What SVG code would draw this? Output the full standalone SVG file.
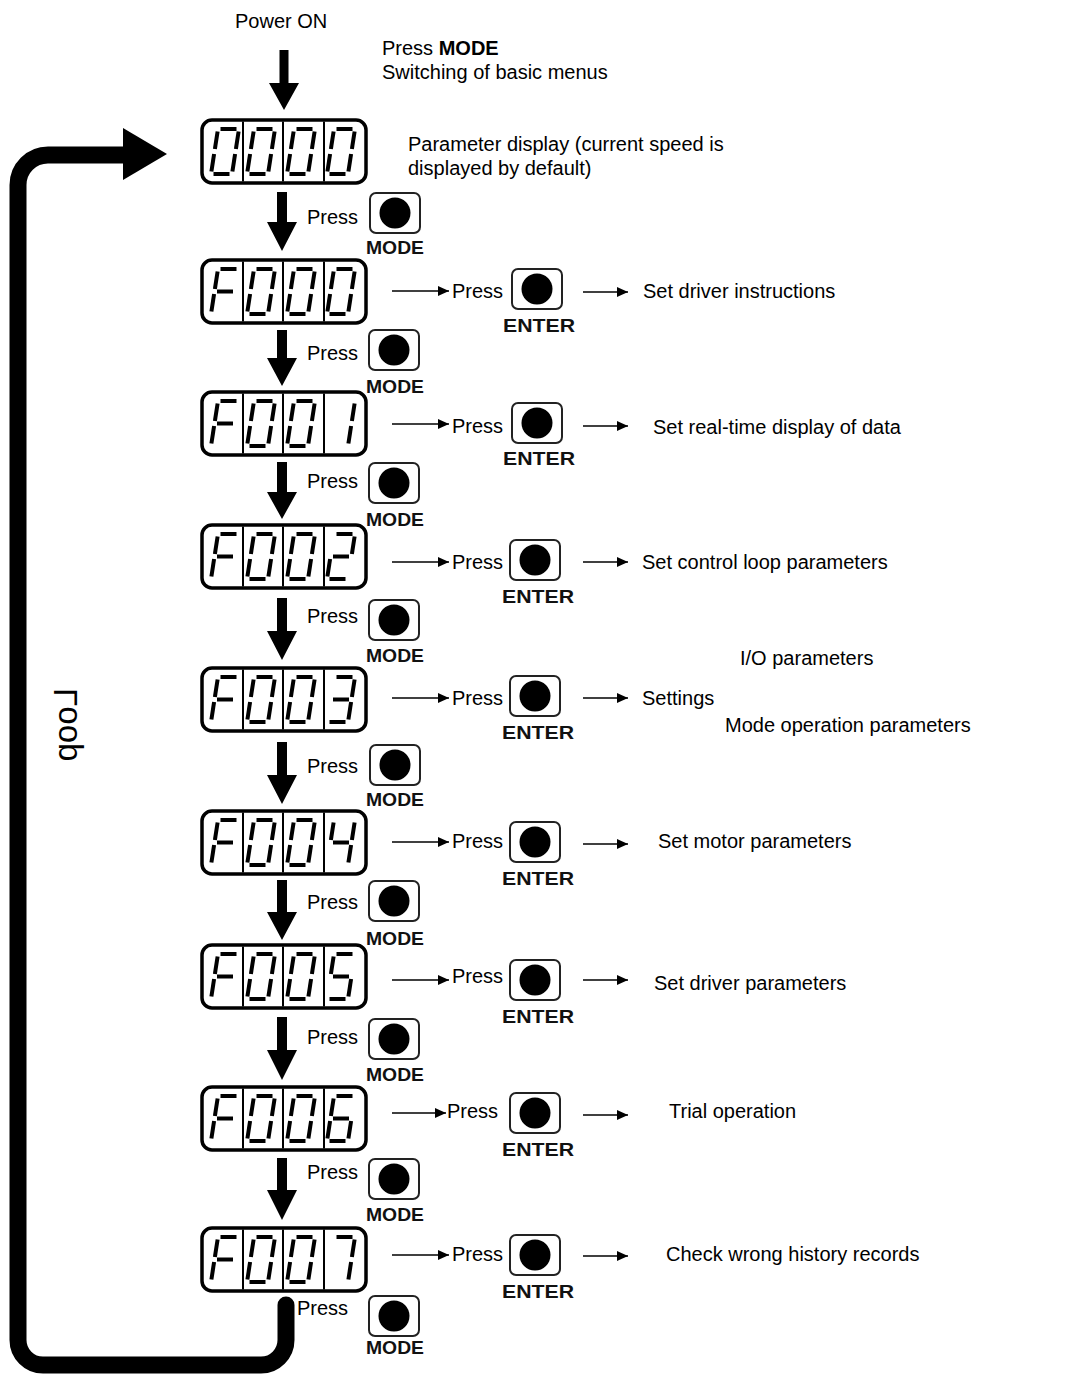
<svg xmlns="http://www.w3.org/2000/svg" xmlns:xlink="http://www.w3.org/1999/xlink" width="1083" height="1374" viewBox="0 0 1083 1374">
<style>
.t{font-family:"Liberation Sans",Arial,sans-serif;font-size:20px;fill:#000}
.k{font-family:"Liberation Sans",Arial,sans-serif;font-size:19px;font-weight:bold;fill:#111;text-anchor:middle}
.box{fill:#fff;stroke:#000;stroke-width:3.5}
.div{stroke:#000;stroke-width:2}
.seg{stroke:#000;stroke-width:4;stroke-linecap:butt;fill:none}
.btn{fill:#fff;stroke:#222;stroke-width:2}
.thin{stroke:#000;stroke-width:1.6;fill:none}
.big{fill:#000}
</style>
<defs>
<marker id="ah" markerUnits="userSpaceOnUse" markerWidth="12" markerHeight="10" refX="11" refY="5" orient="auto"><path d="M0,0 L11,5 L0,10 Z" fill="#000"/></marker>
<line id="sa" class="seg" x1="9.5" y1="0" x2="25.5" y2="0"/>
<line id="sb" class="seg" x1="27.6" y1="2.5" x2="24.9" y2="20"/>
<line id="sc" class="seg" x1="24.1" y1="25" x2="21.4" y2="42.5"/>
<line id="sd" class="seg" x1="2.5" y1="45" x2="18.5" y2="45"/>
<line id="se" class="seg" x1="3.1" y1="25" x2="0.4" y2="42.5"/>
<line id="sf" class="seg" x1="6.6" y1="2.5" x2="3.9" y2="20"/>
<line id="sg" class="seg" x1="6" y1="22.5" x2="22" y2="22.5"/>
<g id="d0"><use href="#sa"/><use href="#sb"/><use href="#sc"/><use href="#sd"/><use href="#se"/><use href="#sf"/></g>
<g id="dF"><use href="#sa"/><use href="#se"/><use href="#sf"/><use href="#sg"/></g>
<g id="d1"><use href="#sb"/><use href="#sc"/></g>
<g id="d2"><use href="#sa"/><use href="#sb"/><use href="#sg"/><use href="#se"/><use href="#sd"/></g>
<g id="d3"><use href="#sa"/><use href="#sb"/><use href="#sg"/><use href="#sc"/><use href="#sd"/></g>
<g id="d4"><use href="#sf"/><use href="#sg"/><use href="#sb"/><use href="#sc"/></g>
<g id="d5"><use href="#sa"/><use href="#sf"/><use href="#sg"/><use href="#sc"/><use href="#sd"/></g>
<g id="d6"><use href="#sa"/><use href="#sf"/><use href="#sg"/><use href="#se"/><use href="#sc"/><use href="#sd"/></g>
<g id="d7"><use href="#sa"/><use href="#sb"/><use href="#sc"/></g>
<g id="frame"><rect class="box" x="202" y="0" width="164" height="63" rx="10"/><line class="div" x1="243" y1="1.5" x2="243" y2="61.5"/><line class="div" x1="283" y1="1.5" x2="283" y2="61.5"/><line class="div" x1="324" y1="1.5" x2="324" y2="61.5"/></g>
<g id="btn"><rect class="btn" x="-25" y="-20" width="50" height="40" rx="6"/><circle cx="0" cy="0" r="15.5" fill="#000"/></g>
</defs>

<!-- top labels -->
<g id="top-labels">
<text class="t" x="235" y="28">Power ON</text>
<text class="t" x="382" y="55">Press <tspan font-weight="bold">MODE</tspan></text>
<text class="t" x="382" y="79">Switching of basic menus</text>
<text class="t" x="408" y="151">Parameter display (current speed is</text>
<text class="t" x="408" y="175">displayed by default)</text>
</g>

<!-- connectors -->
<g id="connectors">
<path id="loop" d="M286,1305 V1340 A25,25 0 0 1 261,1365 H43 A25,25 0 0 1 18,1340 V185 A30,30 0 0 1 48,155 H126" fill="none" stroke="#000" stroke-width="17" stroke-linecap="round"/>
<polygon points="123,128 167,154 123,180" fill="#000"/>
<path class="big" d="M279.5,50 H288.5 V83 H299 L284,110 L269,83 H279.5 Z"/>
<path class="big" d="M277,192 H287 V222 H297 L282,251 L267,222 H277 Z"/>
<path class="big" d="M277,330 H287 V358 H297 L282,386 L267,358 H277 Z"/>
<path class="big" d="M277,462 H287 V492 H297 L282,519 L267,492 H277 Z"/>
<path class="big" d="M277,598 H287 V631 H297 L282,660 L267,631 H277 Z"/>
<path class="big" d="M277,742 H287 V775 H297 L282,804 L267,775 H277 Z"/>
<path class="big" d="M277,880 H287 V912 H297 L282,940 L267,912 H277 Z"/>
<path class="big" d="M277,1017 H287 V1050 H297 L282,1080 L267,1050 H277 Z"/>
<path class="big" d="M277,1158 H287 V1190 H297 L282,1220 L267,1190 H277 Z"/>
<line class="thin" x1="392" y1="291" x2="449" y2="291" marker-end="url(#ah)"/>
<line class="thin" x1="583" y1="292" x2="628" y2="292" marker-end="url(#ah)"/>
<line class="thin" x1="392" y1="424" x2="449" y2="424" marker-end="url(#ah)"/>
<line class="thin" x1="583" y1="426" x2="628" y2="426" marker-end="url(#ah)"/>
<line class="thin" x1="392" y1="562" x2="449" y2="562" marker-end="url(#ah)"/>
<line class="thin" x1="583" y1="562" x2="628" y2="562" marker-end="url(#ah)"/>
<line class="thin" x1="392" y1="698" x2="449" y2="698" marker-end="url(#ah)"/>
<line class="thin" x1="583" y1="698" x2="628" y2="698" marker-end="url(#ah)"/>
<line class="thin" x1="392" y1="842" x2="449" y2="842" marker-end="url(#ah)"/>
<line class="thin" x1="583" y1="844" x2="628" y2="844" marker-end="url(#ah)"/>
<line class="thin" x1="392" y1="980" x2="449" y2="980" marker-end="url(#ah)"/>
<line class="thin" x1="583" y1="980" x2="628" y2="980" marker-end="url(#ah)"/>
<line class="thin" x1="392" y1="1113" x2="446" y2="1113" marker-end="url(#ah)"/>
<line class="thin" x1="583" y1="1115" x2="628" y2="1115" marker-end="url(#ah)"/>
<line class="thin" x1="392" y1="1255" x2="449" y2="1255" marker-end="url(#ah)"/>
<line class="thin" x1="583" y1="1256" x2="628" y2="1256" marker-end="url(#ah)"/>
</g>

<text class="t" transform="matrix(0 1 1 0 77 688)" x="0" y="0" style="font-size:33px">Loop</text>

<!-- displays -->
<g id="disp-0000" transform="translate(0,120)"><use href="#frame"/><use href="#d0" x="211" y="9"/><use href="#d0" x="247" y="9"/><use href="#d0" x="287" y="9"/><use href="#d0" x="327" y="9"/></g>
<g id="disp-F000" transform="translate(0,260)"><use href="#frame"/><use href="#dF" x="211" y="9"/><use href="#d0" x="247" y="9"/><use href="#d0" x="287" y="9"/><use href="#d0" x="327" y="9"/></g>
<g id="disp-F001" transform="translate(0,392)"><use href="#frame"/><use href="#dF" x="211" y="9"/><use href="#d0" x="247" y="9"/><use href="#d0" x="287" y="9"/><use href="#d1" x="327" y="9"/></g>
<g id="disp-F002" transform="translate(0,525)"><use href="#frame"/><use href="#dF" x="211" y="9"/><use href="#d0" x="247" y="9"/><use href="#d0" x="287" y="9"/><use href="#d2" x="327" y="9"/></g>
<g id="disp-F003" transform="translate(0,668)"><use href="#frame"/><use href="#dF" x="211" y="9"/><use href="#d0" x="247" y="9"/><use href="#d0" x="287" y="9"/><use href="#d3" x="327" y="9"/></g>
<g id="disp-F004" transform="translate(0,811)"><use href="#frame"/><use href="#dF" x="211" y="9"/><use href="#d0" x="247" y="9"/><use href="#d0" x="287" y="9"/><use href="#d4" x="327" y="9"/></g>
<g id="disp-F005" transform="translate(0,945)"><use href="#frame"/><use href="#dF" x="211" y="9"/><use href="#d0" x="247" y="9"/><use href="#d0" x="287" y="9"/><use href="#d5" x="327" y="9"/></g>
<g id="disp-F006" transform="translate(0,1087)"><use href="#frame"/><use href="#dF" x="211" y="9"/><use href="#d0" x="247" y="9"/><use href="#d0" x="287" y="9"/><use href="#d6" x="327" y="9"/></g>
<g id="disp-F007" transform="translate(0,1228)"><use href="#frame"/><use href="#dF" x="211" y="9"/><use href="#d0" x="247" y="9"/><use href="#d0" x="287" y="9"/><use href="#d7" x="327" y="9"/></g>

<!-- MODE buttons -->
<g id="mode-1"><text class="t" x="307" y="224">Press</text><use href="#btn" x="395" y="213"/><text class="k" x="395" y="254" textLength="58" lengthAdjust="spacingAndGlyphs">MODE</text></g>
<g id="mode-2"><text class="t" x="307" y="360">Press</text><use href="#btn" x="394" y="350"/><text class="k" x="395" y="393" textLength="58" lengthAdjust="spacingAndGlyphs">MODE</text></g>
<g id="mode-3"><text class="t" x="307" y="488">Press</text><use href="#btn" x="394" y="483"/><text class="k" x="395" y="526" textLength="58" lengthAdjust="spacingAndGlyphs">MODE</text></g>
<g id="mode-4"><text class="t" x="307" y="623">Press</text><use href="#btn" x="394" y="620"/><text class="k" x="395" y="662" textLength="58" lengthAdjust="spacingAndGlyphs">MODE</text></g>
<g id="mode-5"><text class="t" x="307" y="773">Press</text><use href="#btn" x="395" y="765"/><text class="k" x="395" y="806" textLength="58" lengthAdjust="spacingAndGlyphs">MODE</text></g>
<g id="mode-6"><text class="t" x="307" y="909">Press</text><use href="#btn" x="394" y="901"/><text class="k" x="395" y="945" textLength="58" lengthAdjust="spacingAndGlyphs">MODE</text></g>
<g id="mode-7"><text class="t" x="307" y="1044">Press</text><use href="#btn" x="394" y="1039"/><text class="k" x="395" y="1081" textLength="58" lengthAdjust="spacingAndGlyphs">MODE</text></g>
<g id="mode-8"><text class="t" x="307" y="1179">Press</text><use href="#btn" x="394" y="1179"/><text class="k" x="395" y="1221" textLength="58" lengthAdjust="spacingAndGlyphs">MODE</text></g>
<g id="mode-9"><text class="t" x="297" y="1315">Press</text><use href="#btn" x="394" y="1316"/><text class="k" x="395" y="1354" textLength="58" lengthAdjust="spacingAndGlyphs">MODE</text></g>

<!-- ENTER buttons and results -->
<g id="enter-F000"><text class="t" x="452" y="298">Press</text><use href="#btn" x="537" y="289"/><text class="k" x="539" y="332" textLength="72" lengthAdjust="spacingAndGlyphs">ENTER</text><text class="t" x="643" y="298">Set driver instructions</text></g>
<g id="enter-F001"><text class="t" x="452" y="433">Press</text><use href="#btn" x="537" y="423"/><text class="k" x="539" y="465" textLength="72" lengthAdjust="spacingAndGlyphs">ENTER</text><text class="t" x="653" y="434">Set real-time display of data</text></g>
<g id="enter-F002"><text class="t" x="452" y="569">Press</text><use href="#btn" x="535" y="560"/><text class="k" x="538" y="603" textLength="72" lengthAdjust="spacingAndGlyphs">ENTER</text><text class="t" x="642" y="569">Set control loop parameters</text></g>
<g id="enter-F003"><text class="t" x="452" y="705">Press</text><use href="#btn" x="535" y="696"/><text class="k" x="538" y="739" textLength="72" lengthAdjust="spacingAndGlyphs">ENTER</text><text class="t" x="642" y="705">Settings</text><text class="t" x="740" y="665">I/O parameters</text><text class="t" x="725" y="732">Mode operation parameters</text></g>
<g id="enter-F004"><text class="t" x="452" y="848">Press</text><use href="#btn" x="535" y="842"/><text class="k" x="538" y="885" textLength="72" lengthAdjust="spacingAndGlyphs">ENTER</text><text class="t" x="658" y="848">Set motor parameters</text></g>
<g id="enter-F005"><text class="t" x="452" y="983">Press</text><use href="#btn" x="535" y="980"/><text class="k" x="538" y="1023" textLength="72" lengthAdjust="spacingAndGlyphs">ENTER</text><text class="t" x="654" y="990">Set driver parameters</text></g>
<g id="enter-F006"><text class="t" x="447" y="1118">Press</text><use href="#btn" x="535" y="1113"/><text class="k" x="538" y="1156" textLength="72" lengthAdjust="spacingAndGlyphs">ENTER</text><text class="t" x="669" y="1118">Trial operation</text></g>
<g id="enter-F007"><text class="t" x="452" y="1261">Press</text><use href="#btn" x="535" y="1255"/><text class="k" x="538" y="1298" textLength="72" lengthAdjust="spacingAndGlyphs">ENTER</text><text class="t" x="666" y="1261">Check wrong history records</text></g>
</svg>
